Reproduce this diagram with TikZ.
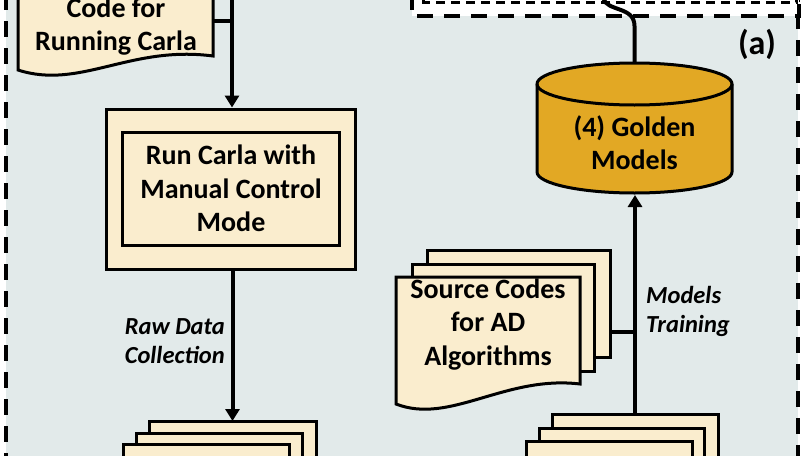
\documentclass[tikz,border=0pt]{standalone}
\usepackage{fontspec}
\setmainfont{Carlito}
\usetikzlibrary{arrows.meta}
\definecolor{bgblue}{RGB}{226,234,234}
\definecolor{beige}{RGB}{250,237,206}
\definecolor{goldfill}{RGB}{226,168,36}
\tikzset{
 region/.style={line width=3.5pt, dash pattern=on 16pt off 11pt},
 shapeline/.style={draw=black, line width=3pt, fill=beige},
 conn/.style={line width=4pt},
 arr/.style={conn, -{Triangle[length=12pt,width=14pt]}},
 txt/.style={inner sep=0pt, align=center, font=\fontsize{28}{33.5}\selectfont\bfseries},
 lbl/.style={inner sep=0pt, font=\fontsize{24.5}{28.5}\selectfont\bfseries\itshape},
}
\begin{document}
\begin{tikzpicture}[x=1pt,y=-1pt]
\useasboundingbox (0,0) rectangle (808,455);
\clip (0,0) rectangle (808,455);
\fill[white] (0,0) rectangle (808,455);
% region (a)
\draw[region, fill=bgblue] (6,-60) rectangle (798,520);
% top white region
\draw[region, fill=white] (412,-60) rectangle (799,16);
\draw[line width=3pt, dash pattern=on 9pt off 6pt] (423,-60) -- (423,2) -- (796,2) -- (796,-60);

% code document
\draw[shapeline] (18,-40) -- (18,70) .. controls (80,90) and (130,45) .. (213,56) -- (213,-40) -- cycle;
\node[txt] (code) at (116,26.5) {Code for\\Running Carla};

% run carla box
\node[draw, line width=3pt, fill=beige, minimum width=249pt, minimum height=160pt, inner sep=0pt] (run) at (231,189) {};
\node[draw, line width=3pt, minimum width=217pt, minimum height=113pt, txt] (runin) at (231,188.5) {Run Carla with\\Manual Control\\Mode};

% connectors left
\coordinate (feedtop) at (232,-10);
\coordinate (codeout) at (213,21);
\draw[conn] (codeout) -- (codeout -| feedtop);
\draw[arr] (feedtop) -- (feedtop |- run.north);

% bottom-left stack
\draw[shapeline] (149,421) rectangle (316,480);
\draw[shapeline] (136,433) rectangle (302,480);
\draw[shapeline] (123,444) rectangle (289,480);
\coordinate (rawtop) at (232.5,421);
\draw[arr] (rawtop |- run.south) -- (rawtop);
\node[lbl, anchor=east, align=right] (rawlbl) at (225,341) {Raw Data\\Collection};

% source codes stack
\draw[shapeline] (427,250) rectangle (610,357);
\draw[shapeline] (412,264) rectangle (594,371);
\draw[shapeline] (396,277) -- (396,404) .. controls (450,425) and (505,375) .. (580,384) -- (580,277) -- cycle;
\node[txt] (src) at (488,324.5) {Source Codes\\for AD\\Algorithms};

% bottom-right stack
\draw[shapeline] (552,414) rectangle (718,480);
\draw[shapeline] (539,428) rectangle (704,480);
\draw[shapeline] (526,441) rectangle (692,480);

% cylinder
\filldraw[line width=3pt, fill=goldfill] (537,84) -- (537,172) arc[start angle=180,end angle=360,x radius=97.5pt,y radius=21pt] -- (732,84) arc[start angle=0,end angle=180,x radius=97.5pt,y radius=21pt] -- cycle;
\draw[line width=3pt] (732,84) arc[start angle=0,end angle=-180,x radius=97.5pt,y radius=21pt];
\node[txt] (golden) at (634.5,142.5) {(4) Golden\\Models};
\coordinate (cyltop) at (634.5,63);
\coordinate (cylbot) at (634.5,195);

% right connectors
\coordinate (trainsrc) at (635,414);
\draw[arr] (trainsrc) -- (trainsrc |- cylbot);
\coordinate (srcout) at (610,332);
\draw[conn] (srcout) -- (srcout -| trainsrc);
\node[lbl, anchor=west, align=left] (trainlbl) at (646,311.5) {Models\\Training};

% wavy connector from top
\coordinate (wave) at (603,-2);
\draw[conn] (wave) .. controls (607,12) and (634.5,6) .. (634.5,26) -- (cyltop);

\node[font=\fontsize{34}{38}\selectfont\bfseries, inner sep=0pt] (alabel) at (757,44) {(a)};
\end{tikzpicture}
\end{document}
